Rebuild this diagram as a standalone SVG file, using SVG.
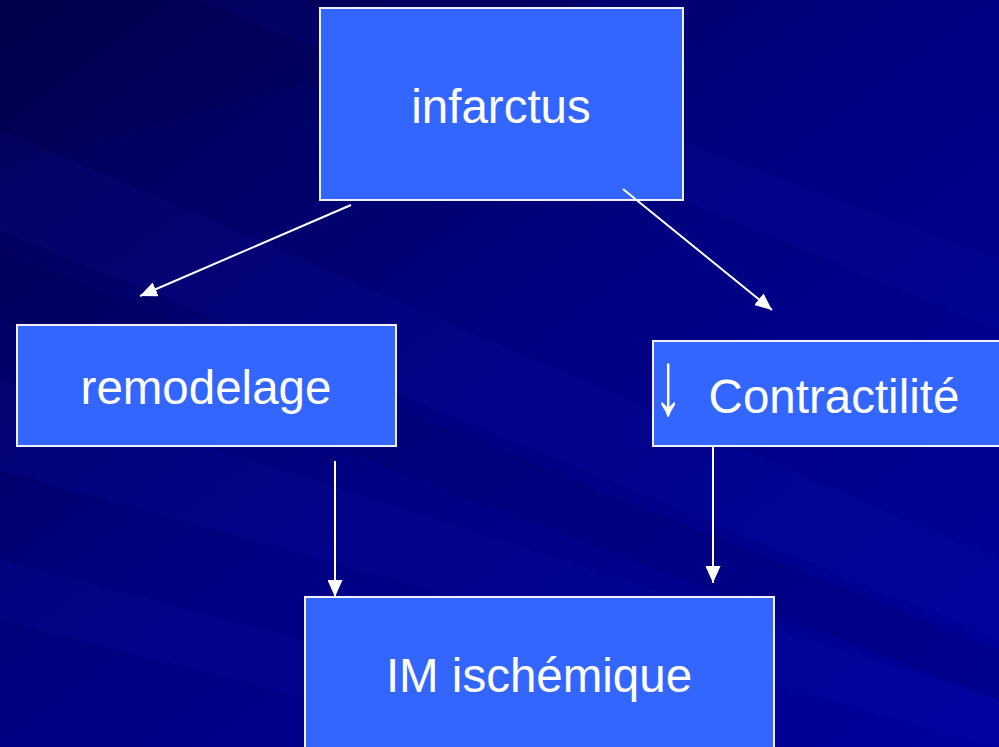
<svg xmlns="http://www.w3.org/2000/svg" width="999" height="747" viewBox="0 0 999 747">
<defs>
<linearGradient id="bg" x1="0" y1="0" x2="1" y2="1">
<stop offset="0" stop-color="#000050"/>
<stop offset="0.5" stop-color="#000082"/>
<stop offset="1" stop-color="#00009c"/>
</linearGradient>
<marker id="ah" viewBox="0 0 17 15" refX="17" refY="7.5" markerWidth="17" markerHeight="15" markerUnits="userSpaceOnUse" orient="auto">
<path d="M0,0 L17,7.5 L0,15 Z" fill="#ffffff"/>
</marker>
<style>
.box{fill:#3366ff;stroke:#f0f0ff;stroke-width:2}
.lbl{font-family:"Liberation Sans",Arial,sans-serif;font-size:47.5px;fill:#ffffff;text-anchor:middle}
.conn line{stroke:#ffffff;stroke-width:2;marker-end:url(#ah)}
</style>
</defs>
<rect width="999" height="747" fill="url(#bg)"/>
<g opacity="0.09" fill="#2a2ad0">
<polygon points="0,130 999,560 999,640 0,230"/>
<polygon points="0,380 999,700 999,747 0,470"/>
<polygon points="300,0 999,260 999,330 200,0"/>
<polygon points="0,560 700,747 500,747 0,620"/>
</g>
<g opacity="0.1" fill="#000030">
<polygon points="0,0 600,0 0,170"/>
<polygon points="0,250 999,650 999,700 0,320"/>
</g>
<g id="infarctus">
<rect class="box" x="320" y="8" width="363" height="192"/>
<text class="lbl" x="501" y="123">infarctus</text>
</g>
<g id="remodelage">
<rect class="box" x="17" y="325" width="379" height="121"/>
<text class="lbl" x="206" y="404">remodelage</text>
</g>
<g id="contractilite">
<rect class="box" x="653" y="341" width="350" height="105"/>
<text class="lbl" transform="translate(668,414) scale(1.3,2.05)" x="0" y="0" style="font-size:44px;font-weight:bold">↓</text>
<text class="lbl" x="834" y="413">Contractilité</text>
</g>
<g id="im">
<rect class="box" x="305" y="597" width="469" height="155"/>
<text class="lbl" x="539" y="692">IM ischémique</text>
</g>
<g class="conn">
<line x1="351" y1="205" x2="140" y2="296"/>
<line x1="623" y1="189" x2="772" y2="310"/>
<line x1="335" y1="461" x2="335" y2="597"/>
<line x1="713" y1="447" x2="713" y2="583"/>
</g>
</svg>
